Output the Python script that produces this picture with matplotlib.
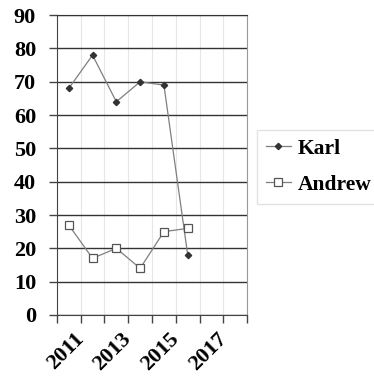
import matplotlib.pyplot as plt
from matplotlib.transforms import ScaledTranslation

# Data
years = [2011, 2012, 2013, 2014, 2015, 2016]
karl = [68, 78, 64, 70, 69, 18]
andrew = [27, 17, 20, 14, 25, 26]
tick_years = [2011, 2013, 2015, 2017]

plt.rcParams['font.family'] = 'Liberation Serif'
plt.rcParams['font.weight'] = 'bold'

fig = plt.figure(figsize=(3.74, 3.79), dpi=100)
ax = fig.add_axes([0.152, 0.169, 0.509, 0.791])

# points sit in the middle of each year slot
xs = [y - 0.5 for y in years]
ax.plot(xs, karl, color='#7f7f7f', lw=0.9, marker='D', ms=3.2,
        mfc='#333333', mec='#333333', label='Karl')
ax.plot(xs, andrew, color='#7f7f7f', lw=0.9, marker='s', ms=6,
        mfc='white', mec='#555555', mew=0.9, label='Andrew')

ax.set_xlim(2010, 2018)
ax.set_ylim(0, 90)
ax.set_yticks(range(0, 91, 10))
ax.set_xticks(range(2010, 2019))
ax.set_xticklabels([str(y) if y in tick_years else '' for y in range(2010, 2019)],
                   rotation=45, ha='right', rotation_mode='anchor')
ax.tick_params(axis='x', length=6, width=1, color='#444444', labelsize=16, pad=4)
ax.tick_params(axis='y', length=6, width=1, color='#444444', labelsize=16, pad=9)

# nudge the slanted year labels a bit to the left
shift = ScaledTranslation(-0.07, 0, fig.dpi_scale_trans)
for lab in ax.get_xticklabels():
    lab.set_transform(lab.get_transform() + shift)

ax.grid(axis='y', color='#333333', lw=1)
ax.grid(axis='x', color='#e6e6e6', lw=0.8)
ax.set_axisbelow(True)

ax.spines['left'].set_color('#444444')
ax.spines['bottom'].set_color('#444444')
ax.spines['top'].set_color('#333333')
ax.spines['right'].set_color('#999999')

fig.legend(loc='upper left', bbox_to_anchor=(0.687, 0.657), frameon=True,
           fancybox=False, edgecolor='#dddddd', fontsize=15.5, borderaxespad=0,
           handlelength=1.2, handletextpad=0.3, borderpad=0.4, labelspacing=0.75)

fig.savefig('out.png', dpi=100)
